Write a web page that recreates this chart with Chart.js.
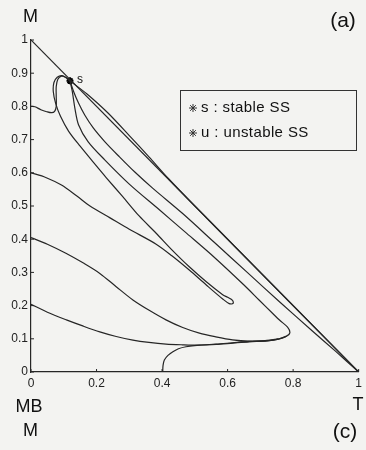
<!DOCTYPE html>
<html>
<head>
<meta charset="utf-8">
<script src="https://cdn.jsdelivr.net/npm/chart.js@4.4.1/dist/chart.umd.min.js"></script>
<style>
  html, body { margin: 0; padding: 0; background: #f3f3f1; }
  #wrap { width: 366px; height: 450px; position: relative; }
</style>
</head>
<body>
<div id="wrap"><canvas id="phaseChart"></canvas></div>
<script>
// Trajectories in the (T, M) plane, stored as [T, M] pairs
const fromM08 = [
  [0, 0.80], [0.012, 0.799], [0.03, 0.79], [0.048, 0.784], [0.063, 0.781],
  [0.072, 0.785], [0.077, 0.80], [0.077, 0.83], [0.077, 0.86], [0.082, 0.882],
  [0.093, 0.891], [0.106, 0.887], [0.119, 0.877]
];
const fromM06 = [
  [0, 0.60], [0.045, 0.586], [0.093, 0.563], [0.14, 0.53], [0.18, 0.50],
  [0.24, 0.465], [0.30, 0.43], [0.382, 0.385], [0.43, 0.35], [0.483, 0.307],
  [0.535, 0.262], [0.585, 0.22], [0.605, 0.206], [0.617, 0.207], [0.615, 0.216],
  [0.60, 0.225], [0.585, 0.233], [0.535, 0.272], [0.483, 0.317], [0.43, 0.368],
  [0.382, 0.418], [0.33, 0.47], [0.28, 0.528], [0.23, 0.585], [0.19, 0.632],
  [0.15, 0.68], [0.115, 0.725], [0.09, 0.77], [0.075, 0.81], [0.068, 0.845],
  [0.07, 0.872], [0.08, 0.888], [0.095, 0.893], [0.11, 0.885], [0.119, 0.877]
];
const fromM04 = [
  [0, 0.405], [0.05, 0.385], [0.108, 0.357], [0.16, 0.328], [0.21, 0.297],
  [0.26, 0.257], [0.311, 0.217], [0.362, 0.185], [0.412, 0.157], [0.463, 0.134],
  [0.514, 0.117], [0.564, 0.106], [0.615, 0.097], [0.666, 0.093], [0.72, 0.094],
  [0.755, 0.099], [0.78, 0.108], [0.79, 0.118], [0.783, 0.135], [0.76, 0.155],
  [0.737, 0.177], [0.696, 0.217], [0.65, 0.262], [0.56, 0.345], [0.47, 0.422],
  [0.39, 0.49], [0.30, 0.566], [0.225, 0.639], [0.174, 0.694], [0.145, 0.745],
  [0.134, 0.794], [0.126, 0.845], [0.119, 0.877]
];
const fromM02 = [
  [0, 0.204], [0.05, 0.18], [0.108, 0.157], [0.16, 0.138], [0.21, 0.121],
  [0.26, 0.107], [0.311, 0.096], [0.36, 0.089], [0.412, 0.084], [0.462, 0.082],
  [0.514, 0.081], [0.565, 0.083], [0.615, 0.087], [0.666, 0.091], [0.72, 0.094],
  [0.755, 0.099], [0.78, 0.108]
];
const fromT04 = [
  [0.402, 0], [0.403, 0.02], [0.407, 0.036], [0.418, 0.05], [0.433, 0.061],
  [0.45, 0.07], [0.473, 0.076], [0.514, 0.081], [0.565, 0.084], [0.615, 0.088],
  [0.666, 0.092], [0.72, 0.095], [0.755, 0.1]
];
const nearEdge = [
  [0.119, 0.877], [0.13, 0.845], [0.145, 0.81], [0.164, 0.774], [0.19, 0.735],
  [0.225, 0.694], [0.27, 0.648], [0.316, 0.603], [0.372, 0.553], [0.462, 0.478],
  [0.56, 0.39], [0.66, 0.30], [0.76, 0.21], [0.857, 0.125], [0.93, 0.062], [1, 0]
];
const outerEdge = [
  [0.119, 0.877], [0.17, 0.838], [0.235, 0.78], [0.30, 0.712], [0.36, 0.648],
  [0.42, 0.582], [0.50, 0.50], [1, 0]
];
const hypotenuse = [[0, 1], [1, 0]];

const stablePoint = [[0.119, 0.877]];
const unstablePoint = [[1, 0]];

const xTickLabels = ["0", "0.2", "0.4", "0.6", "0.8", "1"];
const yTickLabels = ["0", "0.1", "0.2", "0.3", "0.4", "0.5", "0.6", "0.7", "0.8", "0.9", "1"];
const legendLabels = ["s : stable SS", "u : unstable SS"];

const ink = "#262626";
const fontFamily = "'Liberation Sans', Arial, sans-serif";
const tickFont = { family: fontFamily, size: 12 };

function toPoints(arr) {
  return arr.map(([t, m]) => ({ x: t, y: m }));
}

const curves = [fromM08, fromM06, fromM04, fromM02, fromT04, nearEdge, outerEdge, hypotenuse];

const datasets = curves.map((c) => ({
  data: toPoints(c),
  showLine: true,
  borderColor: ink,
  borderWidth: 1.2,
  pointRadius: 0,
  tension: 0.3,
  fill: false,
}));

datasets.push({
  data: toPoints(stablePoint),
  pointStyle: "star",
  pointRadius: 3.5,
  borderColor: "#000",
  borderWidth: 2,
  showLine: false,
});
datasets.push({
  data: toPoints(unstablePoint),
  pointStyle: "circle",
  pointRadius: 1.5,
  backgroundColor: "#000",
  borderColor: "#000",
  showLine: false,
});

// labels, inward tick marks and the key box
const annotations = {
  id: "annotations",
  afterDraw(chart) {
    const { ctx, chartArea, scales } = chart;
    const xs = scales.x, ys = scales.y;
    ctx.save();
    ctx.strokeStyle = ink;
    ctx.lineWidth = 1;
    xTickLabels.forEach((_, i) => {
      const px = xs.getPixelForValue(i * 0.2);
      ctx.beginPath();
      ctx.moveTo(px, chartArea.bottom);
      ctx.lineTo(px, chartArea.bottom - 3);
      ctx.stroke();
    });
    yTickLabels.forEach((_, i) => {
      const py = ys.getPixelForValue(i * 0.1);
      ctx.beginPath();
      ctx.moveTo(chartArea.left, py);
      ctx.lineTo(chartArea.left + 3, py);
      ctx.stroke();
    });

    ctx.fillStyle = "#111";
    ctx.textAlign = "center";
    ctx.textBaseline = "middle";
    ctx.font = "18px " + fontFamily;
    ctx.fillText("M", 30.5, 17.5);
    ctx.fillText("MB", 29, 407);
    ctx.fillText("M", 30.5, 431);
    ctx.fillText("T", 358, 405);
    ctx.font = "21px " + fontFamily;
    ctx.fillText("(a)", 343, 21);
    ctx.fillText("(c)", 345, 432);

    ctx.font = "12px " + fontFamily;
    ctx.fillText("s", xs.getPixelForValue(stablePoint[0][0]) + 10, ys.getPixelForValue(stablePoint[0][1]) - 1);

    // key box
    ctx.strokeStyle = "#333";
    ctx.lineWidth = 1;
    ctx.strokeRect(180.5, 90.5, 176, 60);
    ctx.textAlign = "left";
    ctx.font = "15px " + fontFamily;
    ctx.letterSpacing = "0.4px";
    legendLabels.forEach((label, i) => {
      const y = 108 + i * 25;
      Chart.helpers.drawPoint(ctx, { pointStyle: "star", radius: 4, borderWidth: 2 }, 193, y);
      ctx.fillText(label, 201, y);
    });
    ctx.restore();
  },
};

const phaseCtx = document.getElementById("phaseChart").getContext("2d");
const phaseChart = new Chart(phaseCtx, {
  type: "scatter",
  data: { datasets },
  options: {
    responsive: true,
    maintainAspectRatio: false,
    animation: false,
    layout: { padding: { left: 0, top: 40, right: 6, bottom: 58 } },
    plugins: {
      legend: { display: false },
      tooltip: { enabled: false },
    },
    scales: {
      x: {
        type: "linear",
        min: 0,
        max: 1,
        afterFit: (scale) => { scale.height = 20; },
        ticks: {
          stepSize: 0.2,
          autoSkip: false,
          maxRotation: 0,
          padding: 4,
          color: "#222",
          font: tickFont,
          callback: (v, i) => xTickLabels[i],
        },
        grid: { display: false, drawTicks: false },
        border: { display: true, color: ink, width: 1.2 },
      },
      y: {
        type: "linear",
        min: 0,
        max: 1,
        afterFit: (scale) => { scale.width = 31; },
        ticks: {
          stepSize: 0.1,
          autoSkip: false,
          padding: 3,
          color: "#222",
          font: tickFont,
          callback: (v, i) => yTickLabels[i],
        },
        grid: { display: false, drawTicks: false },
        border: { display: true, color: ink, width: 1.2 },
      },
    },
  },
  plugins: [annotations],
});
</script>
</body>
</html>
